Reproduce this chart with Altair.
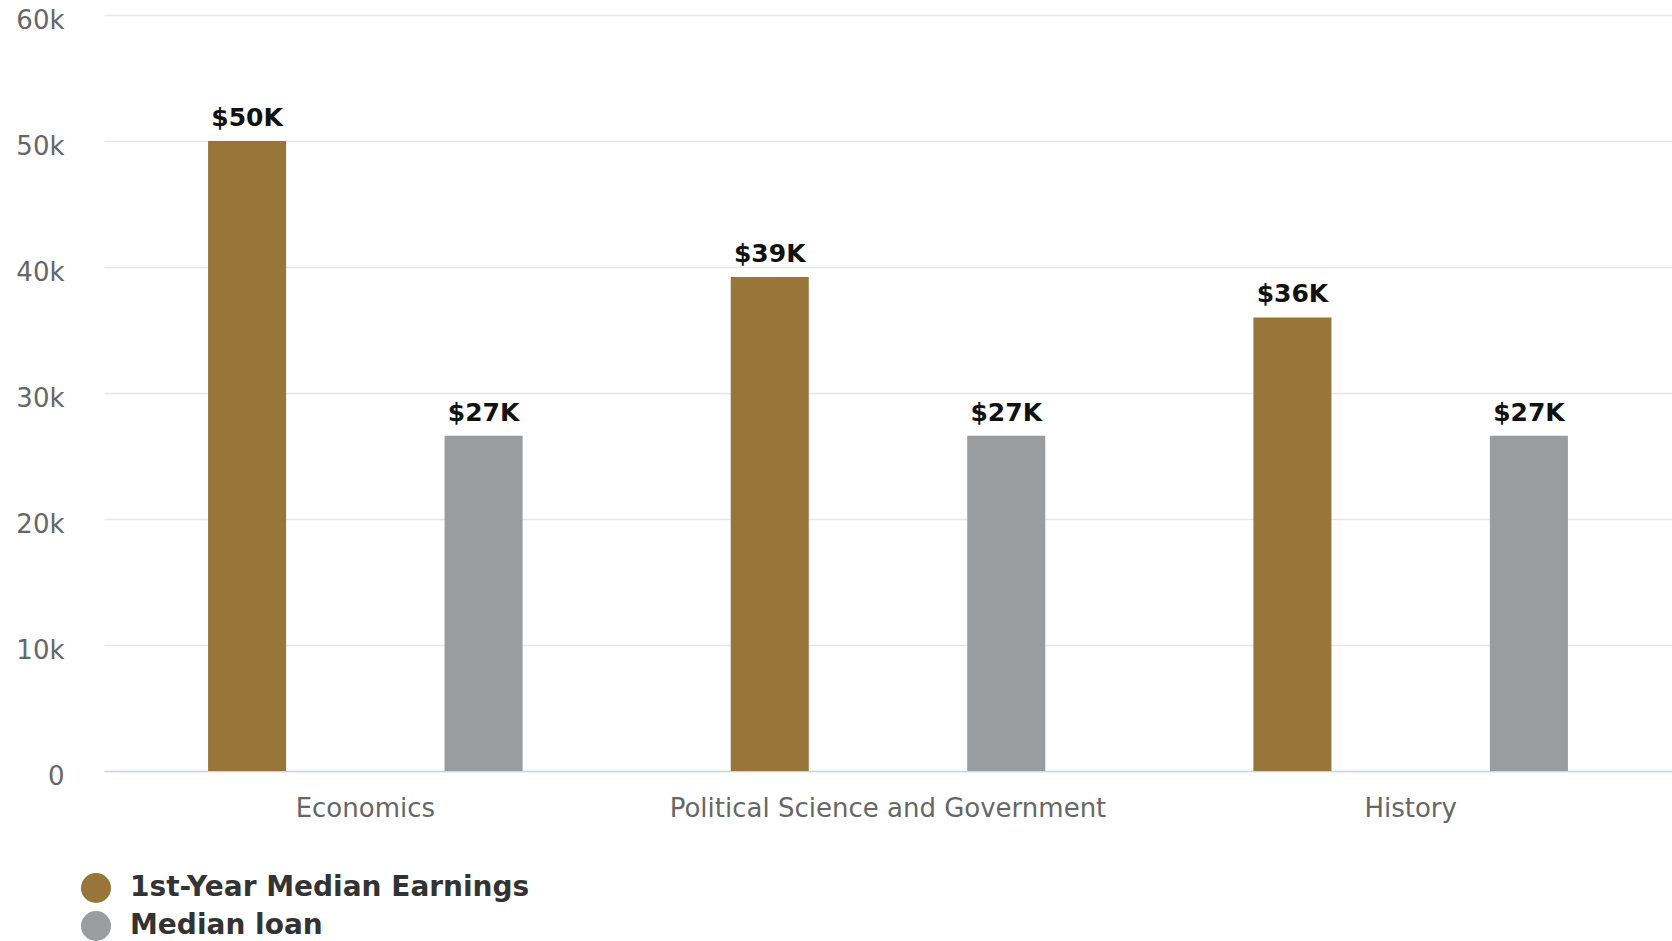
import altair as alt
import pandas as pd

majors = ["Economics", "Political Science and Government", "History"]
series = ["1st-Year Median Earnings", "Median loan"]
earnings = [50000, 39200, 36000]
loans = [26600, 26600, 26600]
colors = ["#98763A", "#9A9C9D"]

rows = []
for m, e, l in zip(majors, earnings, loans):
    rows.append({"major": m, "series": series[0], "value": e})
    rows.append({"major": m, "series": series[1], "value": l})
df = pd.DataFrame(rows)
df["label"] = df["value"].apply(lambda v: f"${round(v / 1000)}K")

FONT = "DejaVu Sans"

base = alt.Chart(df).encode(
    x=alt.X(
        "major:N",
        sort=majors,
        scale=alt.Scale(paddingInner=0, paddingOuter=0),
        axis=alt.Axis(
            title=None, labelAngle=0, labelFontSize=26, labelColor="#666666",
            labelFont=FONT, labelPadding=24, ticks=False, domainColor="#ccd6eb",
            domainWidth=1.5, grid=False, labelLimit=1000,
        ),
    ),
    xOffset=alt.XOffset(
        "series:N", sort=series,
        scale=alt.Scale(paddingInner=0.67, paddingOuter=0.44),
    ),
    y=alt.Y(
        "value:Q",
        scale=alt.Scale(domain=[0, 60000]),
        axis=alt.Axis(
            title=None, values=[0, 10000, 20000, 30000, 40000, 50000, 60000],
            format="~s", labelExpr="datum.value == 0 ? '0' : datum.label",
            labelFontSize=26, labelColor="#666666", labelFont=FONT,
            labelPadding=40, ticks=False, domain=False, gridColor="#e6e6e6",
            gridWidth=1.5, labelBaseline="middle", labelOffset=5,
        ),
    ),
)

bars = base.mark_bar().encode(
    color=alt.Color(
        "series:N",
        scale=alt.Scale(domain=series, range=colors),
        legend=alt.Legend(
            title=None, orient="none", legendX=-23, legendY=858, direction="vertical",
            symbolType="circle", symbolSize=900, symbolStrokeWidth=0,
            labelFontSize=28, labelFont=FONT, labelFontWeight="bold",
            labelColor="#333333", labelOffset=19, rowPadding=8, padding=0,
            labelLimit=800,
        ),
    )
)

text = base.mark_text(
    baseline="bottom", dy=-10, fontSize=25, fontWeight="bold", font=FONT,
    color="#111111",
).encode(text="label:N")

chart = (
    (bars + text)
    .properties(
        width=1568, height=756,
        padding={"left": 104, "top": 15, "right": 0, "bottom": 170},
        autosize=alt.AutoSizeParams(type="none"),
        background="white",
    )
    .configure_view(stroke=None)
)

chart.save("out.html", embed_options={"renderer": "svg", "actions": False})
